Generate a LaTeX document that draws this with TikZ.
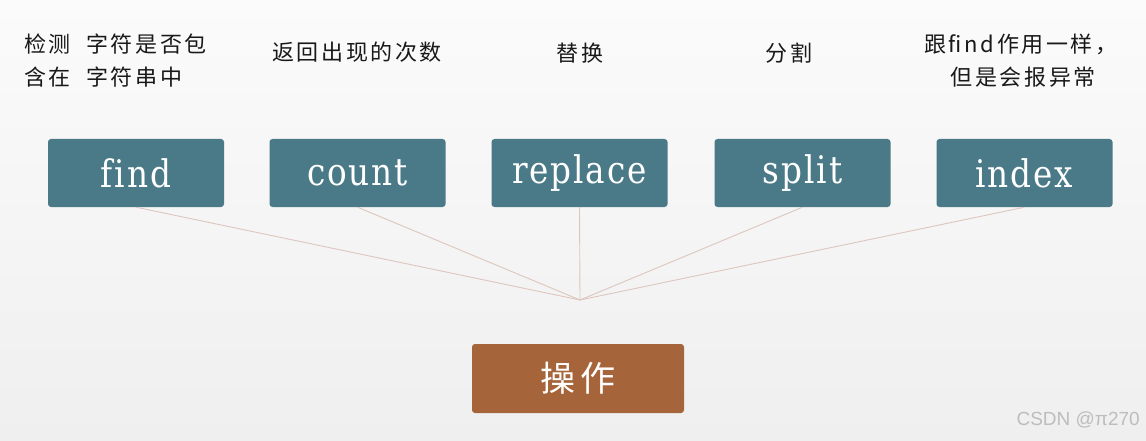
\documentclass[tikz,border=0pt]{standalone}
\usepackage{fontspec}
\newfontfamily\cjk[LetterSpace=12]{Noto Sans CJK SC}
\newfontfamily\cjkbig[LetterSpace=12]{Noto Sans CJK SC}
\newfontfamily\boxfont[FakeStretch=0.86,LetterSpace=5,Ligatures=NoCommon]{DejaVu Serif}
\newfontfamily\wmfont{Liberation Sans}
\definecolor{teal}{HTML}{4A7A88}
\definecolor{rust}{HTML}{A5643A}
\definecolor{linkc}{HTML}{DCC6BE}
\definecolor{bgtop}{HTML}{FBFBFB}
\definecolor{bgbot}{HTML}{EFEFEF}
\definecolor{wm}{HTML}{BDBDBD}
\begin{document}
\begin{tikzpicture}[x=1pt,y=-1pt,
  opbox/.style={fill=teal, rounded corners=3pt, minimum width=176pt, minimum height=68pt,
    text=white, inner sep=0pt, font=\boxfont\fontsize{38}{40}\selectfont},
  mainbox/.style={fill=rust, rounded corners=3pt, minimum width=212pt, minimum height=69pt,
    text=white, inner sep=0pt, font=\cjkbig\fontsize{35}{38}\selectfont},
  lbl/.style={inner sep=0pt, text=black!90, font=\cjk\fontsize{22}{33}\selectfont},
  link/.style={draw=linkc, line width=0.9pt}]
\fill[top color=bgtop, bottom color=bgbot] (0,0) rectangle (1146,441);
\useasboundingbox (0,0) rectangle (1146,441);
\node[opbox] (find) at (136,173) {find};
\node[opbox] (count) at (357.5,173) {count};
\node[opbox] (replace) at (579.5,173) {replace};
\node[opbox] (split) at (802.5,173) {split};
\node[opbox] (index) at (1024.5,173) {index};
\node[mainbox] (op) at (578,378.5) {操作};
\coordinate (hub) at (580,300);
\foreach \n in {find,count,replace,split,index}
  \draw[link] (\n.south) -- (hub);
\node[lbl, anchor=north west, align=left] (l1) at (24,34) {检测\hspace{0.7em}字符是否包\\含在\hspace{0.7em}字符串中};
\node[lbl] (l2) at (357,52) {返回出现的次数};
\node[lbl] (l3) at (580,53) {替换};
\node[lbl] (l4) at (789,53) {分割};
\node[lbl, anchor=north west, align=left] (l5) at (924,34) {跟find作用一样，\\\hspace{1.2em}但是会报异常};
\node[inner sep=0pt, anchor=east, text=wm, font=\wmfont\fontsize{19}{22}\selectfont] (wm) at (1140,420) {CSDN @π270};
\end{tikzpicture}
\end{document}
